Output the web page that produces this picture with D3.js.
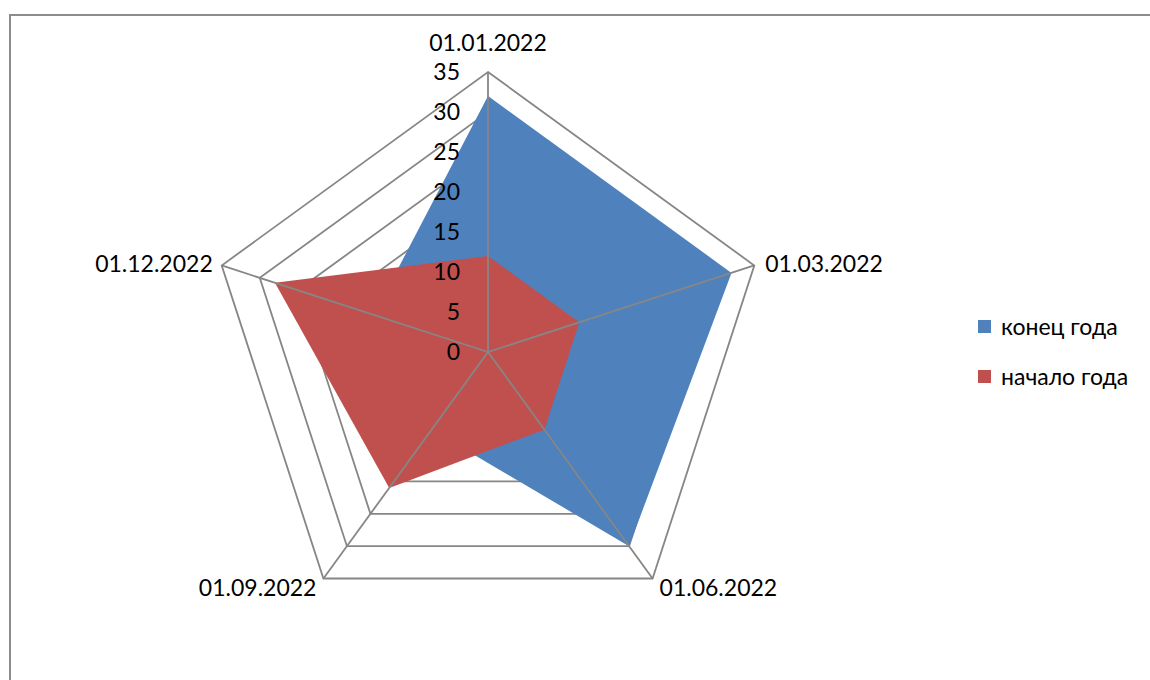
<!DOCTYPE html>
<html><head><meta charset="utf-8">
<script src="https://cdn.jsdelivr.net/npm/d3@7"></script>
<style>body{margin:0;background:#fff}svg{display:block}text{font-family:Lato,"Open Sans",sans-serif;fill:#000}</style>
</head><body><svg id="c" width="1150" height="680"></svg>
<script>
const categories = ["01.01.2022","01.03.2022","01.06.2022","01.09.2022","01.12.2022"];
const seriesNames = ["конец года","начало года"];
const endYear = [32, 32, 30, 12, 15];
const startYear = [12, 12, 12, 21, 28];
const tickValues = [0,5,10,15,20,25,30,35];
const colors = ["#4F81BD","#C0504D"];

const svg = d3.select("#c");
const cx = 488, cy = 352;
svg.append("rect").attr("x",10).attr("y",15).attr("width",1160).attr("height",700)
  .attr("fill","#fff").attr("stroke","#8c8c8c").attr("stroke-width",2);

const r = d3.scaleLinear().domain([0,35]).range([0,280]);
const ang = d3.scalePoint().domain(categories).range([0, 2*Math.PI*(categories.length-1)/categories.length]);
const g = svg.append("g").attr("transform",`translate(${cx},${cy})`);
const pt = (c,v)=>[Math.sin(ang(c))*r(v), -Math.cos(ang(c))*r(v)];

// rings
g.selectAll(".ring").data(tickValues.filter(d=>d>0)).join("polygon")
  .attr("points", v => categories.map(c=>pt(c,v).join(",")).join(" "))
  .attr("fill","none").attr("stroke","#868686").attr("stroke-width",1.8);

// series areas
const data = [endYear, startYear];
data.forEach((vals,i)=>{
  g.append("polygon").attr("points", categories.map((c,j)=>pt(c,vals[j]).join(",")).join(" "))
   .attr("fill",colors[i]);
});

// spokes
g.selectAll(".spoke").data(categories).join("line")
  .attr("x1",0).attr("y1",0).attr("x2",c=>pt(c,35)[0]).attr("y2",c=>pt(c,35)[1])
  .attr("stroke","#868686").attr("stroke-width",1.8);

const FS = 23;
// tick labels
g.selectAll(".tick").data(tickValues).join("text")
  .attr("x",-28).attr("y",v=>-r(v)).attr("dy","0.35em").attr("text-anchor","end")
  .attr("font-size",FS).text(v=>v);

// category labels
const lab = {
  "01.01.2022":{dx:0,dy:-29,anchor:"middle"},
  "01.03.2022":{dx:11,dy:-2,anchor:"start"},
  "01.06.2022":{dx:7,dy:9,anchor:"start"},
  "01.09.2022":{dx:-7,dy:9,anchor:"end"},
  "01.12.2022":{dx:-9,dy:-2,anchor:"end"}
};
g.selectAll(".cat").data(categories).join("text")
  .attr("x",c=>pt(c,35)[0]+lab[c].dx).attr("y",c=>pt(c,35)[1]+lab[c].dy)
  .attr("dy","0.35em").attr("text-anchor",c=>lab[c].anchor).attr("font-size",FS).text(c=>c);

// legend
const leg = svg.append("g").attr("transform","translate(978,320)");
seriesNames.forEach((n,i)=>{
  leg.append("rect").attr("x",0).attr("y",i*50).attr("width",13).attr("height",13).attr("fill",colors[i]);
  leg.append("text").attr("x",23).attr("y",i*50+7).attr("dy","0.35em").attr("font-size",FS).text(n);
});
</script></body></html>
